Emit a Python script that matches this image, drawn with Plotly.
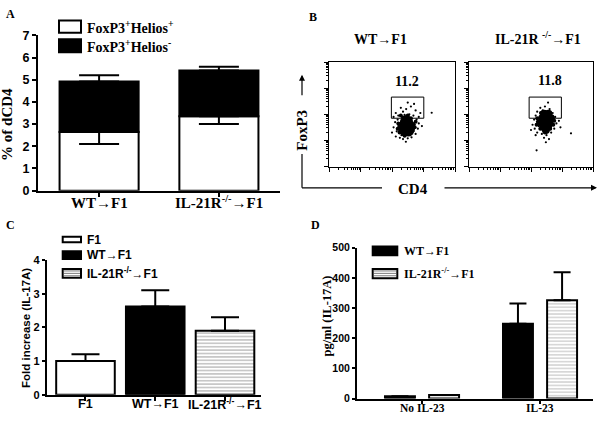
import math
import plotly.graph_objects as go

SERIF = "Liberation Serif"
SANS = "Liberation Sans"

# ---------------- Panel A data ----------------
a_groups = ["WT→F1", "IL-21R<sup>-/-</sup>→F1"]
a_helios_pos = [2.65, 3.35]          # FoxP3+Helios+
a_helios_pos_err_low = [0.55, 0.34]
a_helios_neg = [2.27, 2.06]          # FoxP3+Helios- (stacked on top)
a_total_err_high = [0.28, 0.17]
a_legend = ["FoxP3<sup>+</sup>Helios<sup>+</sup>", "FoxP3<sup>+</sup>Helios<sup>-</sup>"]

# ---------------- Panel B data (decades of fluorescence) ----------------
b_titles = ["WT→F1", "IL-21R <sup>-/-</sup>→F1"]
b_percent = ["11.2", "11.8"]
b_percent_pos = [[2.49, 3.27], [2.61, 3.30]]
gate_x = [[1.98, 3.01], [1.94, 2.98]]
gate_y = [[1.85, 2.66], [1.85, 2.66]]

wt_core_x = [2.32, 2.46, 2.60, 2.38, 2.54, 2.32, 2.46, 2.60, 2.40, 2.52, 2.46]
wt_core_y = [1.57, 1.57, 1.57, 1.72, 1.72, 1.42, 1.42, 1.42, 1.30, 1.30, 1.82]
wt_mid_x = [2.20, 2.72, 2.35, 2.60, 2.40, 2.62, 2.18, 2.75, 2.50, 2.28, 2.24, 2.68]
wt_mid_y = [1.65, 1.50, 1.88, 1.85, 1.18, 1.28, 1.45, 1.72, 1.95, 1.95, 1.30, 1.62]
wt_dot_x = [2.12, 2.20, 2.35, 2.55, 2.68, 2.75, 2.28, 2.60, 2.45, 2.85, 2.05, 2.40, 2.70,
            2.50, 2.90, 2.10, 2.05, 2.15, 2.12, 2.25, 2.35, 2.50, 2.62, 2.75, 2.82, 2.85,
            2.78, 2.20, 2.72, 2.30, 2.58, 2.68, 2.18, 2.44, 2.95, 2.00, 3.26]
wt_dot_y = [2.05, 1.95, 2.10, 2.00, 1.95, 2.15, 2.25, 2.30, 2.20, 1.90, 1.90, 1.98, 2.40,
            2.45, 2.05, 1.70, 1.50, 1.35, 1.15, 1.10, 1.05, 1.08, 1.12, 1.25, 1.45, 1.65,
            1.80, 1.55, 1.60, 1.20, 1.20, 1.35, 1.80, 0.95, 1.55, 1.30, 2.06]

il_core_x = [2.42, 2.56, 2.36, 2.50, 2.64, 2.32, 2.45, 2.60, 2.40, 2.55, 2.48]
il_core_y = [2.02, 2.02, 1.85, 1.85, 1.85, 1.68, 1.68, 1.68, 1.52, 1.52, 1.40]
il_mid_x = [2.22, 2.75, 2.32, 2.62, 2.30, 2.62, 2.45, 2.18, 2.72, 2.20, 2.68]
il_mid_y = [1.72, 1.75, 2.05, 2.05, 1.45, 1.45, 1.30, 1.60, 1.60, 1.85, 1.92]
il_dot_x = [2.20, 2.30, 2.45, 2.60, 2.70, 2.15, 2.55, 2.38, 2.78, 2.10, 2.05, 2.12, 2.20,
            2.35, 2.50, 2.65, 2.75, 2.82, 2.90, 2.25, 2.70, 2.00, 2.42, 2.58, 2.95, 2.15,
            3.29, 2.18, 2.48]
il_dot_y = [2.10, 2.25, 2.30, 2.20, 2.05, 1.95, 2.45, 2.15, 1.90, 1.80, 1.60, 1.45, 1.30,
            1.25, 1.20, 1.30, 1.45, 1.65, 1.75, 1.55, 1.58, 1.40, 1.10, 1.05, 1.50, 1.20,
            1.27, 0.62, 0.93]

# ---------------- Panel C data ----------------
c_groups = ["F1", "WT→F1", "IL-21R<sup>-/-</sup>→F1"]
c_values = [1.0, 2.62, 1.9]
c_err = [0.2, 0.48, 0.4]

# ---------------- Panel D data ----------------
d_conditions = ["No IL-23", "IL-23"]
d_wt = [8, 248]
d_wt_err = [0, 67]
d_il = [12, 326]
d_il_err = [0, 93]
d_series = ["WT→F1", "IL-21R<sup>-/-</sup>→F1"]


def px(x):
    return x / 600.0


def py(y):
    return 1 - y / 422.0


fig = go.Figure()

# ---- Panel A bars ----
fig.add_trace(go.Bar(
    x=a_groups, y=a_helios_pos, xaxis="x", yaxis="y", width=0.66, offset=-0.33,
    marker=dict(color="white", line=dict(color="black", width=2)),
    error_y=dict(type="data", symmetric=False, array=[0, 0], arrayminus=a_helios_pos_err_low,
                 color="black", thickness=2, width=20),
    showlegend=False))
fig.add_trace(go.Bar(
    x=a_groups, y=a_helios_neg, base=a_helios_pos, xaxis="x", yaxis="y", width=0.66, offset=-0.33,
    marker=dict(color="black", line=dict(color="black", width=2)),
    error_y=dict(type="data", symmetric=False, array=a_total_err_high, arrayminus=[0, 0],
                 color="black", thickness=2, width=20),
    showlegend=False))

# ---- Panel B flow plots ----
flow = [
    ("x2", "y2", wt_core_x, wt_core_y, wt_mid_x, wt_mid_y, wt_dot_x, wt_dot_y),
    ("x3", "y3", il_core_x, il_core_y, il_mid_x, il_mid_y, il_dot_x, il_dot_y),
]
for xa, ya, cx, cy, mx, my, dx, dy in flow:
    fig.add_trace(go.Scatter(x=dx, y=dy, xaxis=xa, yaxis=ya, mode="markers",
                             marker=dict(color="black", size=2.2), showlegend=False))
    fig.add_trace(go.Scatter(x=mx, y=my, xaxis=xa, yaxis=ya, mode="markers",
                             marker=dict(color="black", size=4), showlegend=False))
    fig.add_trace(go.Scatter(x=cx, y=cy, xaxis=xa, yaxis=ya, mode="markers",
                             marker=dict(color="black", size=8), showlegend=False))

# ---- Panel C bars ----
fig.add_trace(go.Bar(
    x=c_groups, y=c_values, xaxis="x4", yaxis="y4", width=0.84, offset=-0.42,
    marker=dict(color=["white", "black", "white"], line=dict(color="black", width=2),
                pattern=dict(shape=["", "", "-"], fgcolor="#7a7a7a", bgcolor="white",
                             size=3.4, solidity=0.3)),
    error_y=dict(type="data", symmetric=False, array=c_err, arrayminus=[0, 0, 0],
                 color="black", thickness=2, width=14),
    showlegend=False))

# ---- Panel D bars ----
fig.add_trace(go.Bar(
    x=d_conditions, y=d_wt, xaxis="x5", yaxis="y5", width=0.254, offset=-0.314,
    marker=dict(color="black", line=dict(color="black", width=2)),
    error_y=dict(type="data", symmetric=False, array=d_wt_err, arrayminus=[0, 0],
                 color="black", thickness=2, width=8.5),
    showlegend=False))
fig.add_trace(go.Bar(
    x=d_conditions, y=d_il, xaxis="x5", yaxis="y5", width=0.254, offset=0.06,
    marker=dict(color="white", line=dict(color="black", width=2),
                pattern=dict(shape="-", fgcolor="#7a7a7a", bgcolor="white", size=3.4, solidity=0.3)),
    error_y=dict(type="data", symmetric=False, array=d_il_err, arrayminus=[0, 0],
                 color="black", thickness=2, width=8.5),
    showlegend=False))

axis_common = dict(showline=True, linecolor="black", linewidth=2, ticks="outside",
                   tickcolor="black", tickwidth=2, ticklen=4, showgrid=False, zeroline=False)

minor_vals = [d + math.log10(k) for d in range(4) for k in range(2, 10)]
flow_axis = dict(showline=True, linecolor="black", linewidth=1, mirror=True, ticks="outside",
                 tickcolor="black", tickwidth=1, ticklen=4, showgrid=False, zeroline=False,
                 range=[0, 4], tickmode="array", tickvals=[0, 1, 2, 3, 4], showticklabels=False,
                 minor=dict(tickmode="array", tickvals=minor_vals, ticks="outside", ticklen=2.5,
                            tickwidth=1, tickcolor="black", showgrid=False))

bold = dict(tickprefix="<b>", ticksuffix="</b>")

fig.update_layout(
    width=600, height=422, autosize=False,
    margin=dict(l=0, r=0, t=0, b=0),
    paper_bgcolor="white", plot_bgcolor="white",
    barmode="group",
    font=dict(family=SERIF, color="black"),
    xaxis=dict(**axis_common, domain=[px(38), px(280)], anchor="y", type="category",
               range=[-0.51, 1.51], showticklabels=False),
    yaxis=dict(**axis_common, **bold, domain=[py(190), py(29.3)], anchor="x", range=[0, 7],
               dtick=1, tickfont=dict(family=SANS, size=12.5)),
    xaxis2=dict(**flow_axis, domain=[px(329), px(455)], anchor="y2"),
    yaxis2=dict(**flow_axis, domain=[py(165), py(57)], anchor="x2"),
    xaxis3=dict(**flow_axis, domain=[px(469), px(593)], anchor="y3"),
    yaxis3=dict(**flow_axis, domain=[py(165), py(57)], anchor="x3"),
    xaxis4=dict(**axis_common, domain=[px(46.7), px(261)], anchor="y4", type="category",
                range=[-0.556, 2.516], showticklabels=False),
    yaxis4=dict(**axis_common, **bold, domain=[py(401), py(261.7)], anchor="x4", range=[0, 4],
                dtick=1, tickfont=dict(family=SANS, size=11)),
    xaxis5=dict(**axis_common, domain=[px(357), px(593)], anchor="y5", type="category",
                range=[-0.551, 1.449], showticklabels=False),
    yaxis5=dict(**axis_common, **bold, domain=[py(405), py(249)], anchor="x5", range=[0, 500],
                dtick=100, tickfont=dict(family=SANS, size=10.5)),
)
fig.update_yaxes(ticklen=3, selector=dict(anchor="x4"))
fig.update_yaxes(ticklen=3, selector=dict(anchor="x5"))
fig.update_xaxes(ticklen=3, selector=dict(anchor="y5"))

ann = []
shapes = []

ARROW_SPAN = '<span style="font-family:Liberation Sans">→</span>'


def label(x, y, text, size, family=SERIF, angle=0, xanchor="center", xref="paper", yref="paper"):
    if family == SERIF:
        text = text.replace("→", ARROW_SPAN)
    ann.append(dict(x=x, y=y, xref=xref, yref=yref, text="<b>" + text + "</b>", showarrow=False,
                    textangle=angle, xanchor=xanchor, yanchor="middle",
                    font=dict(family=family, size=size, color="black")))


# Panel letters
label(px(10), py(7), "A", 12)
label(px(313), py(10), "B", 12)
label(px(10), py(225), "C", 12)
label(px(315), py(225), "D", 12)

# Category labels under the bar axes
for g in a_groups:
    label(g, py(202), g, 15, xref="x")
for g in c_groups:
    label(g, py(411), g, 12.5, family=SANS, xref="x4")
for g in d_conditions:
    label(g, py(415), g, 11.5, xref="x5")

# Panel A titles and legend
label(px(7), py(122), "% of dCD4", 15, angle=-90)
a_box_y = [(14, 26.7), (33.3, 46.7)]
a_box_fill = ["white", "black"]
for (y0, y1), fill, txt in zip(a_box_y, a_box_fill, a_legend):
    shapes.append(dict(type="rect", xref="paper", yref="paper", x0=px(59), x1=px(81),
                       y0=py(y1), y1=py(y0), fillcolor=fill, line=dict(color="black", width=2)))
    label(px(85), py((y0 + y1) / 2 + 0.5), txt, 14, xanchor="left")

# Panel B titles, percentages, gates
label(px(380), py(33), b_titles[0], 14)
label(px(538), py(32), b_titles[1], 14)
for i, (xa, ya) in enumerate([("x2", "y2"), ("x3", "y3")]):
    shapes.append(dict(type="rect", xref=xa, yref=ya, x0=gate_x[i][0], x1=gate_x[i][1],
                       y0=gate_y[i][0], y1=gate_y[i][1], line=dict(color="black", width=1)))
    label(b_percent_pos[i][0], b_percent_pos[i][1], b_percent[i], 14, xref=xa, yref=ya)

# FoxP3 / CD4 arrows
ann.append(dict(x=px(302), y=py(70), xref="paper", yref="paper", ax=0, ay=22, text="",
                showarrow=True, arrowhead=2, arrowsize=1, arrowwidth=1.2, arrowcolor="black"))
shapes.append(dict(type="line", xref="paper", yref="paper", x0=px(302), x1=px(302),
                   y0=py(152), y1=py(187), line=dict(color="black", width=1.2)))
shapes.append(dict(type="line", xref="paper", yref="paper", x0=px(302), x1=px(382),
                   y0=py(187), y1=py(187), line=dict(color="black", width=1.2)))
ann.append(dict(x=px(597), y=py(187), xref="paper", yref="paper", ax=-154, ay=0, text="",
                showarrow=True, arrowhead=2, arrowsize=1, arrowwidth=1.2, arrowcolor="black"))
label(px(302), py(128), "FoxP3", 15, angle=-90)
label(px(413), py(188), "CD4", 15)

# Panel C titles and legend
label(px(26), py(332), "Fold increase (IL-17A)", 11.5, family=SANS, angle=-90)
c_box_y = [(237.7, 243.3), (252.7, 260.7), (271, 280)]
c_box_fill = ["white", "black", "white"]
for (y0, y1), fill, txt, striped in zip(c_box_y, c_box_fill, c_groups, [False, False, True]):
    shapes.append(dict(type="rect", xref="paper", yref="paper", x0=px(62.7), x1=px(81),
                       y0=py(y1), y1=py(y0), fillcolor=fill, line=dict(color="black", width=2)))
    if striped:
        yy = y0 + 2
        while yy < y1 - 1:
            shapes.append(dict(type="line", xref="paper", yref="paper", x0=px(64), x1=px(80),
                               y0=py(yy), y1=py(yy), line=dict(color="#7a7a7a", width=1)))
            yy += 2.5
    label(px(85), py((y0 + y1) / 2), txt, 12, family=SANS, xanchor="left")

# Panel D titles and legend
label(px(327), py(320), "pg/ml (IL-17A)", 12.5, angle=-90)
d_box_y = [(247.7, 256.7), (271, 280.5)]
d_box_fill = ["black", "white"]
for (y0, y1), fill, txt, striped in zip(d_box_y, d_box_fill, d_series, [False, True]):
    shapes.append(dict(type="rect", xref="paper", yref="paper", x0=px(372.7), x1=px(397.3),
                       y0=py(y1), y1=py(y0), fillcolor=fill, line=dict(color="black", width=2)))
    if striped:
        yy = y0 + 2
        while yy < y1 - 1:
            shapes.append(dict(type="line", xref="paper", yref="paper", x0=px(374), x1=px(396),
                               y0=py(yy), y1=py(yy), line=dict(color="#7a7a7a", width=1)))
            yy += 2.5
    label(px(401.7), py((y0 + y1) / 2), txt, 12, xanchor="left")

fig.update_layout(annotations=ann, shapes=shapes)

fig.write_html("out.html", config={"displayModeBar": False},
               post_script="document.body.style.margin='0';"
               "document.body.style.overflow='hidden';")
